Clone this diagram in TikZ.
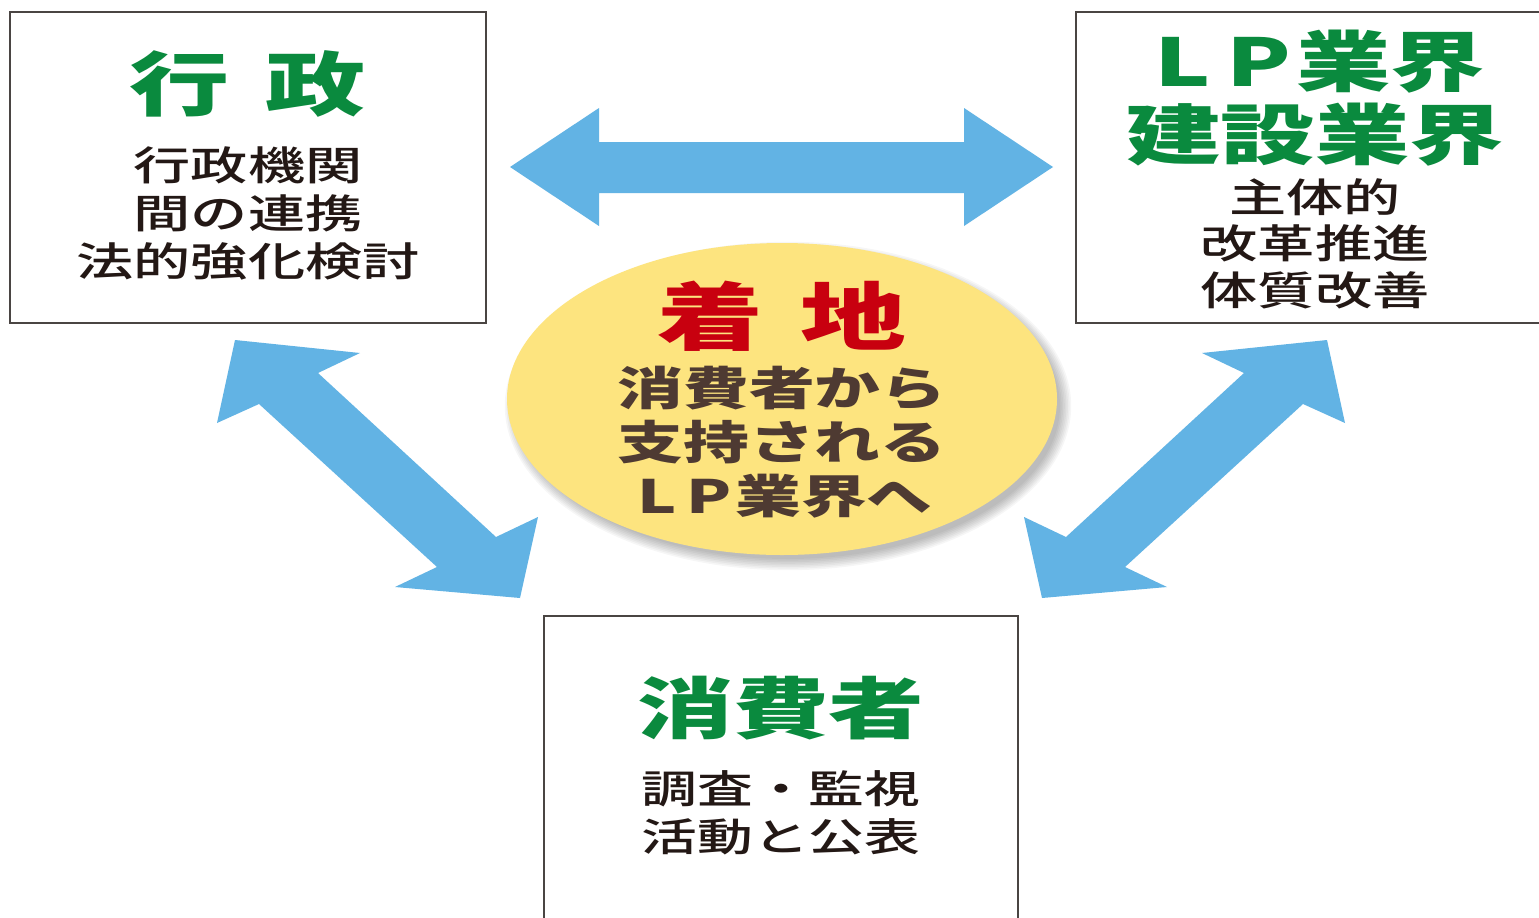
\documentclass[tikz,border=0pt]{standalone}
\usepackage{fontspec}
\newfontfamily\jp[FakeStretch=1.43]{Noto Sans CJK JP}
\newfontfamily\jpm[FakeStretch=1.43]{Noto Sans CJK JP Medium}
\definecolor{jpgreen}{HTML}{0A8A3E}
\definecolor{jpred}{HTML}{C8000F}
\definecolor{jpbrown}{HTML}{4E3A32}
\definecolor{jpdark}{HTML}{231815}
\definecolor{arrowblue}{HTML}{62B3E4}
\definecolor{ellyellow}{HTML}{FDE47F}
\definecolor{boxline}{HTML}{4A4543}
\begin{document}
\begin{tikzpicture}[x=1pt,y=-1pt,
  txt/.style={inner sep=0pt, anchor=base, font=\jp\bfseries},
  bigtitle/.style={txt, text=jpgreen},
  subline/.style={txt, text=jpdark},
  boxframe/.style={draw=boxline, line width=1.5pt, fill=white},
  blockarrow/.style={fill=arrowblue},
]
\useasboundingbox (0,0) rectangle (1539,918);
\clip (0,0) rectangle (1539,918);
\fill[white] (0,0) rectangle (1539,918);

% ---- boxes ----
\draw[boxframe] (10,12) rectangle (486,323) node[pos=0.5, inner sep=0] (gyosei) {};
\draw[boxframe] (1076,12) rectangle (1560,323) node[pos=0.5, inner sep=0] (gyokai) {};
\draw[boxframe] (544,616) rectangle (1018,940) node[pos=0.5, inner sep=0] (shohisha) {};

% ---- block arrows ----
\coordinate (h1) at (510,167);
\coordinate (h2) at (599,108);
\coordinate (h3) at (599,142);
\coordinate (h4) at (964,142);
\coordinate (h5) at (964,108);
\coordinate (h6) at (1053,167);
\coordinate (h7) at (964,226);
\coordinate (h8) at (964,193);
\coordinate (h9) at (599,193);
\coordinate (h10) at (599,226);
\fill[blockarrow] (h1) -- (h2) -- (h3) -- (h4) -- (h5) -- (h6) -- (h7) -- (h8) -- (h9) -- (h10) -- cycle;

\coordinate (l1) at (235,340);
\coordinate (l2) at (360,353);
\coordinate (l3) at (318,373);
\coordinate (l4) at (496,537);
\coordinate (l5) at (538,517);
\coordinate (l6) at (520,598);
\coordinate (l7) at (395,587);
\coordinate (l8) at (437,567);
\coordinate (l9) at (259,404);
\coordinate (l10) at (217,423);
\fill[blockarrow] (l1) -- (l2) -- (l3) -- (l4) -- (l5) -- (l6) -- (l7) -- (l8) -- (l9) -- (l10) -- cycle;

\coordinate (r1) at (1327,340);
\coordinate (r2) at (1202,353);
\coordinate (r3) at (1244,373);
\coordinate (r4) at (1066,537);
\coordinate (r5) at (1024,517);
\coordinate (r6) at (1042,598);
\coordinate (r7) at (1167,587);
\coordinate (r8) at (1125,567);
\coordinate (r9) at (1303,404);
\coordinate (r10) at (1345,423);
\fill[blockarrow] (r1) -- (r2) -- (r3) -- (r4) -- (r5) -- (r6) -- (r7) -- (r8) -- (r9) -- (r10) -- cycle;

% ---- central ellipse with soft shadow ----
\foreach \i in {0,...,7}{
  \fill[black, opacity=0.035] (788,406) ellipse ({272+\i*1.6} and {153+\i*1.6});
}
\fill[ellyellow] (782,399) ellipse (275 and 156);
\node[inner sep=0] (chakuchi) at (782,399) {};

% ---- texts: 行政 ----
\node[bigtitle, font=\jp\bfseries\fontsize{70}{70}\selectfont] (t1) at (248,110) {行\hspace{36pt}政};
\node[subline, font=\jpm\fontsize{40}{40}\selectfont] (t1a) at (248,180) {行政機関};
\node[subline, font=\jpm\fontsize{40}{40}\selectfont] (t1b) at (248,228) {間の連携};
\node[subline, font=\jpm\fontsize{40}{40}\selectfont] (t1c) at (248,276) {法的強化検討};

% ---- texts: LP業界 ----
\node[bigtitle, font=\jp\bfseries\fontsize{66}{66}\selectfont] (t2) at (1315,86) {\makebox[76pt]{L}\makebox[76pt]{P}業界};
\node[bigtitle, font=\jp\bfseries\fontsize{66}{66}\selectfont] (t2b) at (1315,159) {建設業界};
\node[subline, font=\jpm\fontsize{40}{40}\selectfont] (t2c) at (1315,212) {主体的};
\node[subline, font=\jpm\fontsize{40}{40}\selectfont] (t2d) at (1315,258) {改革推進};
\node[subline, font=\jpm\fontsize{40}{40}\selectfont] (t2e) at (1315,305) {体質改善};

% ---- texts: 着地 ----
\node[txt, text=jpred, font=\jp\bfseries\fontsize{74}{74}\selectfont] (t3) at (782,344) {着\hspace{38pt}地};
\node[txt, text=jpbrown, font=\jp\bfseries\fontsize{46}{46}\selectfont] (t3a) at (782,405) {消費者から};
\node[txt, text=jpbrown, font=\jp\bfseries\fontsize{46}{46}\selectfont] (t3b) at (782,459) {支持される};
\node[txt, text=jpbrown, font=\jp\bfseries\fontsize{46}{46}\selectfont] (t3c) at (782,513) {\makebox[52pt]{L}\makebox[52pt]{P}業界へ};

% ---- texts: 消費者 ----
\node[bigtitle, font=\jp\bfseries\fontsize{67}{67}\selectfont] (t4) at (781,733) {消費者};
\node[subline, font=\jpm\fontsize{39}{39}\selectfont] (t4a) at (781,803) {調査・監視};
\node[subline, font=\jpm\fontsize{39}{39}\selectfont] (t4b) at (781,851) {活動と公表};
\end{tikzpicture}
\end{document}
